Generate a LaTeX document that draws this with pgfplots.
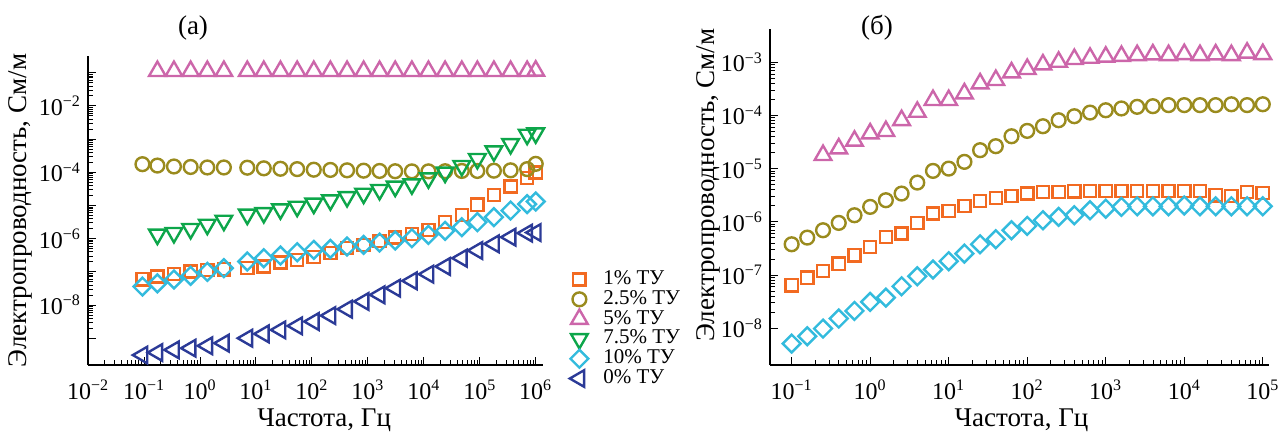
\documentclass[border=0pt]{standalone}
\usepackage{fontspec}
\setmainfont{Liberation Serif}
\usepackage{pgfplots}
\pgfplotsset{compat=1.18}

\definecolor{corange}{RGB}{242,106,33}
\definecolor{colive}{RGB}{154,139,30}
\definecolor{cpink}{RGB}{204,102,170}
\definecolor{cgreen}{RGB}{13,166,74}
\definecolor{ccyan}{RGB}{51,187,221}
\definecolor{cnavy}{RGB}{43,58,151}

\newcommand{\Em}[1]{10\textsuperscript{−#1}}
\newcommand{\Ep}[1]{10\textsuperscript{#1}}

\begin{document}
\begin{tikzpicture}
\useasboundingbox (0,0) rectangle (640pt,217pt);

% ---------------- panel (a) ----------------
\begin{axis}[
  scale only axis,
  xmode=log, ymode=log,
  axis x line*=bottom, axis y line*=left,
  tick align=inside,
  axis line style={line width=0.8pt},
  every tick/.style={black, line width=0.5pt},
  major tick length=4.2pt, minor tick length=2.4pt,
  tick label style={font=\fontsize{12}{14}\selectfont},
  xticklabel style={yshift=-4pt},
  label style={font=\fontsize{13.5}{16}\selectfont},
  clip=false,
  at={(44pt,34.5pt)}, anchor=south west,
  width=227.5pt, height=154.5pt,
  xmin=0.00995, xmax=1.35e6, ymin=1.556e-10, ymax=0.321,
  xtick={1e-2,1e-1,1,10,100,1e3,1e4,1e5,1e6},
  xticklabels={\Em{2},\Em{1},\Ep{0},\Ep{1},\Ep{2},\Ep{3},\Ep{4},\Ep{5},\Ep{6}},
  ytick={1e-9,1e-8,1e-7,1e-6,1e-5,1e-4,1e-3,1e-2,1e-1},
  yticklabels={,\Em{8},,\Em{6},,\Em{4},,\Em{2},},
  xlabel={Частота, Гц},
  ylabel={Электропроводность, См/м},
  xlabel style={at={(axis description cs:0.519,-0.178)}, anchor=center},
  ylabel style={at={(axis description cs:-0.148,0.5)}, anchor=center},
  legend style={draw=none, fill=none, at={(axis description cs:1.058,0.31)}, anchor=north west,
    font=\fontsize{10.5}{12}\selectfont, inner sep=0pt, row sep=0pt, column sep=7pt,
    nodes={inner sep=0.5pt, text height=6.9pt, text depth=2pt}},
  legend cell align=left,
]
\addplot[only marks, mark=square, mark size=3.05pt, mark options={line width=1.2pt, solid}, color=corange] coordinates {
(0.0935,6.0e-8) (0.173,7.2e-8) (0.342,8.5e-8) (0.68,1.02e-7) (1.35,1.15e-7) (2.67,1.2e-7)
(7,1.29e-7) (13.8,1.45e-7) (27.4,1.91e-7) (54.5,2.3e-7) (108,2.77e-7) (214,3.66e-7)
(425,5.2e-7) (840,6.5e-7) (1620,8.6e-7) (3080,1.08e-6) (6120,1.37e-6) (12100,1.85e-6)
(24000,3.14e-6) (47800,5.2e-6) (90600,1.05e-5) (179000,2.1e-5) (356000,3.74e-5) (703000,6.7e-5) (1000000,9.9e-5)
};
\addlegendentry{1\% ТУ}
\addplot[only marks, mark=o, mark size=3.45pt, mark options={line width=1.2pt, solid}, color=colive] coordinates {
(0.0935,1.76e-4) (0.173,1.6e-4) (0.342,1.5e-4) (0.68,1.45e-4) (1.35,1.4e-4) (2.67,1.4e-4)
(7,1.38e-4) (13.8,1.32e-4) (27.4,1.28e-4) (54.5,1.25e-4) (108,1.2e-4) (214,1.18e-4)
(425,1.15e-4) (840,1.12e-4) (1620,1.1e-4) (3080,1.08e-4) (6120,1.07e-4) (12100,1.07e-4)
(24000,1.08e-4) (47800,1.1e-4) (90600,1.1e-4) (179000,1.12e-4) (356000,1.15e-4) (703000,1.25e-4) (1000000,1.8e-4)
};
\addlegendentry{2.5\% ТУ}
\addplot[only marks, mark=triangle, mark size=4.8pt, mark options={line width=1.2pt, solid}, color=cpink] coordinates {
(0.173,0.112) (0.342,0.112) (0.68,0.112) (1.35,0.112) (2.67,0.112)
(7,0.112) (13.8,0.112) (27.4,0.112) (54.5,0.112) (108,0.112) (214,0.112)
(425,0.112) (840,0.112) (1620,0.112) (3080,0.112) (6120,0.112) (12100,0.112)
(24000,0.112) (47800,0.112) (90600,0.112) (179000,0.112) (356000,0.112) (703000,0.112) (1000000,0.115)
};
\addlegendentry{5\% ТУ}
\addplot[only marks, mark=triangle, mark size=4.8pt, mark options={line width=1.2pt, solid, rotate=180}, color=cgreen] coordinates {
(0.173,1.34e-6) (0.342,1.5e-6) (0.68,1.98e-6) (1.35,2.67e-6) (2.67,3.53e-6)
(7,5.36e-6) (13.8,6.0e-6) (27.4,7.75e-6) (54.5,9.3e-6) (108,1.15e-5) (214,1.45e-5)
(425,1.82e-5) (840,2.3e-5) (1620,2.97e-5) (3080,3.74e-5) (6120,4.4e-5) (12100,6.67e-5)
(24000,9.9e-5) (47800,1.57e-4) (90600,2.55e-4) (179000,4.35e-4) (356000,7.2e-4) (703000,1.38e-3) (1000000,1.51e-3)
};
\addlegendentry{7.5\% ТУ}
\addplot[only marks, mark=square, mark size=3.15pt, mark options={line width=1.2pt, solid, rotate=45}, color=ccyan] coordinates {
(0.0935,3.6e-8) (0.173,4.5e-8) (0.342,5.9e-8) (0.68,7.6e-8) (1.35,1.0e-7) (2.67,1.29e-7)
(7,2.05e-7) (13.8,2.58e-7) (27.4,3.1e-7) (54.5,3.9e-7) (108,4.6e-7) (214,4.93e-7)
(425,5.8e-7) (840,6.5e-7) (1620,7.65e-7) (3080,8.8e-7) (6120,1.03e-6) (12100,1.3e-6)
(24000,1.72e-6) (47800,2.22e-6) (90600,3.14e-6) (179000,4.45e-6) (356000,7.06e-6) (703000,1.1e-5) (1000000,1.32e-5)
};
\addlegendentry{10\% ТУ}
\addplot[only marks, mark=triangle, mark size=4.8pt, mark options={line width=1.2pt, solid, rotate=90}, color=cnavy] coordinates {
(0.0935,3.1e-10) (0.173,3.7e-10) (0.342,4.45e-10) (0.68,5.0e-10) (1.35,5.9e-10) (2.67,7.1e-10)
(7,1.0e-9) (13.8,1.35e-9) (27.4,1.78e-9) (54.5,2.35e-9) (108,3.18e-9) (214,4.8e-9)
(425,7.5e-9) (840,1.28e-8) (1620,2.03e-8) (3080,3.22e-8) (6120,5.36e-8) (12100,8.5e-8)
(24000,1.45e-7) (47800,2.58e-7) (90600,4.4e-7) (179000,6.98e-7) (356000,1.11e-6) (703000,1.47e-6) (1000000,1.53e-6)
};
\addlegendentry{0\% ТУ}
\end{axis}

% ---------------- panel (b) ----------------
\begin{axis}[
  scale only axis,
  xmode=log, ymode=log,
  axis x line*=bottom, axis y line*=left,
  tick align=inside,
  axis line style={line width=0.8pt},
  every tick/.style={black, line width=0.5pt},
  major tick length=4.2pt, minor tick length=2.4pt,
  tick label style={font=\fontsize{12}{14}\selectfont},
  xticklabel style={yshift=-4pt},
  label style={font=\fontsize{13.5}{16}\selectfont},
  clip=false,
  at={(385pt,34.5pt)}, anchor=south west,
  width=249.5pt, height=167.85pt,
  xmin=0.053, xmax=1.2e5, ymin=2.04e-9, ymax=4.15e-3,
  xtick={1e-1,1,10,100,1e3,1e4,1e5},
  xticklabels={\Em{1},\Ep{0},\Ep{1},\Ep{2},\Ep{3},\Ep{4},\Ep{5}},
  ytick={1e-8,1e-7,1e-6,1e-5,1e-4,1e-3},
  yticklabels={\Em{8},\Em{7},\Em{6},\Em{5},\Em{4},\Em{3}},
  xlabel={Частота, Гц},
  ylabel={Электропроводность, См/м},
  xlabel style={at={(axis description cs:0.504,-0.164)}, anchor=center},
  ylabel style={at={(axis description cs:-0.124,0.536)}, anchor=center},
]
\addplot[only marks, mark=square, mark size=3.05pt, mark options={line width=1.2pt, solid}, color=corange] coordinates {
(0.1,6.43e-8) (0.158,8.95e-8) (0.251,1.2e-7) (0.398,1.64e-7) (0.631,2.36e-7) (1,3.38e-7)
(1.585,5.21e-7) (2.512,6.02e-7) (3.981,9.55e-7) (6.31,1.43e-6) (10,1.6e-6) (15.85,2.0e-6)
(25.12,2.47e-6) (39.81,2.82e-6) (63.1,3.07e-6) (100,3.4e-6) (158.5,3.65e-6) (251.2,3.65e-6)
(398.1,3.76e-6) (631,3.81e-6) (1000,3.81e-6) (1585,3.81e-6) (2512,3.81e-6) (3981,3.81e-6)
(6310,3.81e-6) (10000,3.81e-6) (15849,3.81e-6) (25119,3.16e-6) (39811,3.07e-6) (63096,3.65e-6) (100000,3.5e-6)
};
\addplot[only marks, mark=o, mark size=3.45pt, mark options={line width=1.2pt, solid}, color=colive] coordinates {
(0.1,3.79e-7) (0.158,5.06e-7) (0.251,6.95e-7) (0.398,9.55e-7) (0.631,1.33e-6) (1,1.91e-6)
(1.585,2.55e-6) (2.512,3.4e-6) (3.981,5.47e-6) (6.31,9.06e-6) (10,1.0e-5) (15.85,1.34e-5)
(25.12,2.22e-5) (39.81,2.64e-5) (63.1,4.06e-5) (100,5.12e-5) (158.5,6.26e-5) (251.2,8.12e-5)
(398.1,9.66e-5) (631,1.13e-4) (1000,1.25e-4) (1585,1.35e-4) (2512,1.45e-4) (3981,1.49e-4)
(6310,1.56e-4) (10000,1.56e-4) (15849,1.56e-4) (25119,1.56e-4) (39811,1.62e-4) (63096,1.56e-4) (100000,1.62e-4)
};
\addplot[only marks, mark=triangle, mark size=4.8pt, mark options={line width=1.2pt, solid}, color=cpink] coordinates {
(0.251,1.79e-5) (0.398,2.38e-5) (0.631,3.32e-5) (1,4.56e-5)
(1.585,5.04e-5) (2.512,8.1e-5) (3.981,1.16e-4) (6.31,1.93e-4) (10,1.93e-4) (15.85,2.58e-4)
(25.12,3.97e-4) (39.81,4.59e-4) (63.1,6.4e-4) (100,7.4e-4) (158.5,9.0e-4) (251.2,1.01e-3)
(398.1,1.14e-3) (631,1.2e-3) (1000,1.26e-3) (1585,1.3e-3) (2512,1.35e-3) (3981,1.39e-3)
(6310,1.35e-3) (10000,1.41e-3) (15849,1.35e-3) (25119,1.39e-3) (39811,1.35e-3) (63096,1.5e-3) (100000,1.41e-3)
};
\addplot[only marks, mark=square, mark size=3.15pt, mark options={line width=1.2pt, solid, rotate=45}, color=ccyan] coordinates {
(0.1,5.15e-9) (0.158,7.08e-9) (0.251,9.86e-9) (0.398,1.52e-8) (0.631,2.12e-8) (1,3.13e-8)
(1.585,3.77e-8) (2.512,6.15e-8) (3.981,9.48e-8) (6.31,1.27e-7) (10,1.82e-7) (15.85,2.53e-7)
(25.12,3.79e-7) (39.81,4.71e-7) (63.1,6.95e-7) (100,8.39e-7) (158.5,1.07e-6) (251.2,1.24e-6)
(398.1,1.33e-6) (631,1.65e-6) (1000,1.77e-6) (1585,1.91e-6) (2512,1.96e-6) (3981,1.96e-6)
(6310,1.96e-6) (10000,2.03e-6) (15849,1.96e-6) (25119,1.96e-6) (39811,1.96e-6) (63096,1.96e-6) (100000,1.96e-6)
};
\end{axis}

\node[font=\fontsize{13.5}{16}\selectfont] at (96.5pt,203pt) {(а)};
\node[font=\fontsize{13.5}{16}\selectfont] at (438.5pt,203pt) {(б)};
\end{tikzpicture}
\end{document}
